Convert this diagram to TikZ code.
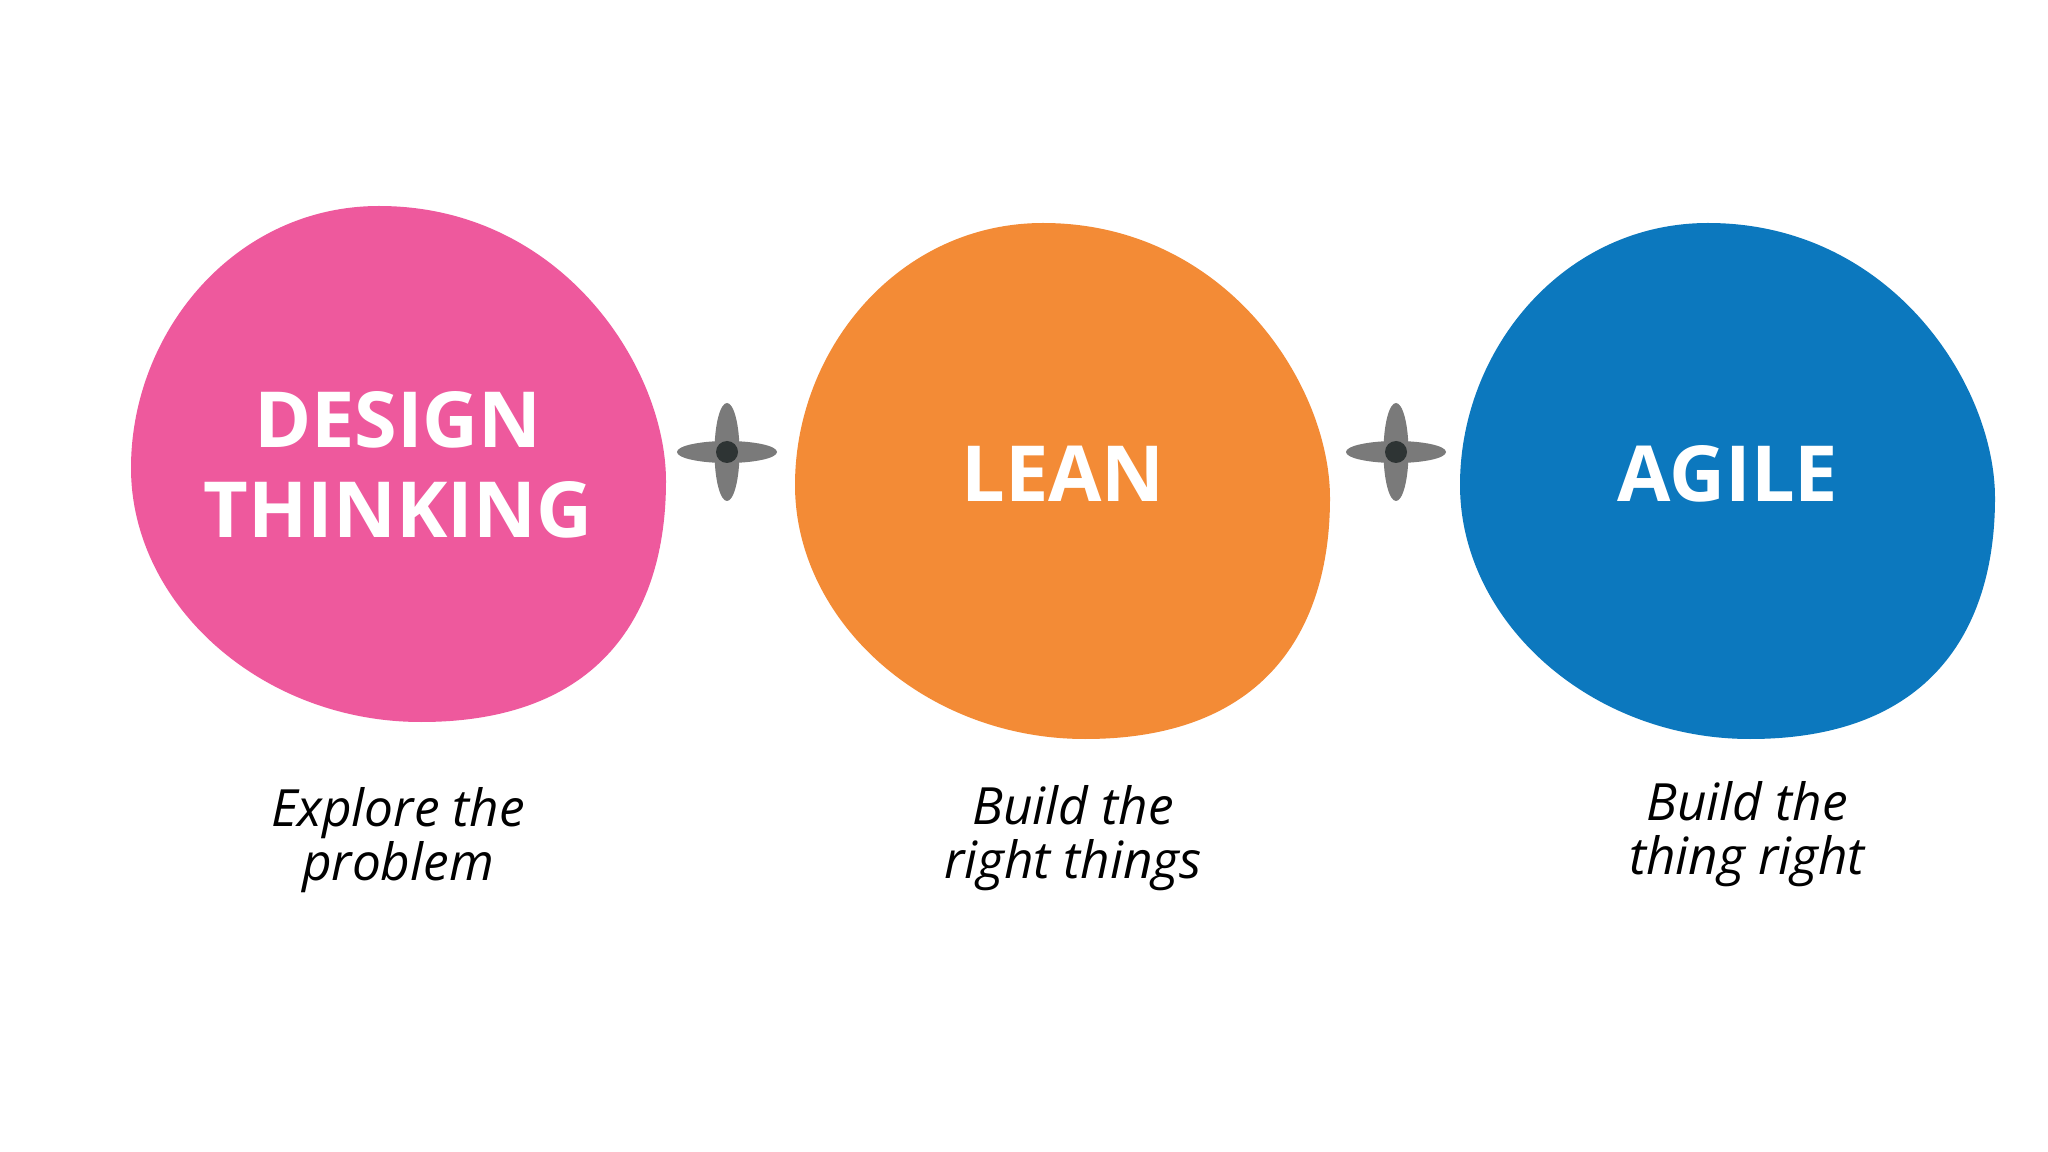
\documentclass[tikz,border=0pt]{standalone}
\usepackage{fontspec}
\setmainfont{Open Sans}

\definecolor{pinkblob}{HTML}{EE599D}
\definecolor{orangeblob}{HTML}{F38B36}
\definecolor{blueblob}{HTML}{0C78BE}
\definecolor{petalgray}{HTML}{7A7A7A}
\definecolor{petaldot}{HTML}{2E3434}

% one blob, same outline each time: colour, left, top
\newcommand{\blob}[3]{%
  \fill [#1, shift={(#2,#3)}] (248,0)
    .. controls (431,0) and (535,162) .. (535,275)
    .. controls (535,407) and (470,516) .. (290,516)
    .. controls (130,516) and (0,398) .. (0,262)
    .. controls (0,126) and (104,0) .. cycle;}

\tikzset{
  title/.style={text=white, align=center, font=\bfseries\fontsize{22}{25.6}\selectfont},
  caption/.style={text=black, align=center, font=\itshape\fontsize{14.6}{15.2}\selectfont},
  petal/.style={fill=petalgray}
}

\begin{document}
\begin{tikzpicture}[x=0.01cm, y=-0.01cm]
        \fill [white] (0,0) rectangle (2048,1152);
        \useasboundingbox (0,0) rectangle (2048,1152);
        \blob{pinkblob}{131}{206}
        \blob{orangeblob}{795}{223}
        \blob{blueblob}{1460}{223}
        \node [title] (design) at (398,465) {DESIGN\\THINKING};
        \node [title] (lean) at (1063,474) {LEAN};
        \node [title] (agile) at (1728,474) {AGILE};
        \node [caption] (explore) at (398,840) {Explore the\\problem};
        \node [caption] (rightthings) at (1073,838) {Build the\\right things};
        \node [caption] (thingright) at (1747,834) {Build the\\thing right};
        % the two plus marks
        \foreach \x in {727,1396} {
            \coordinate (plus\x) at (\x,452);
            \fill [petal] (plus\x) ellipse [x radius=50, y radius=11];
            \fill [petal] (plus\x) ellipse [x radius=12.5, y radius=49];
            \fill [petaldot] (plus\x) circle [radius=11];
        }
    \end{tikzpicture}
\end{document}
